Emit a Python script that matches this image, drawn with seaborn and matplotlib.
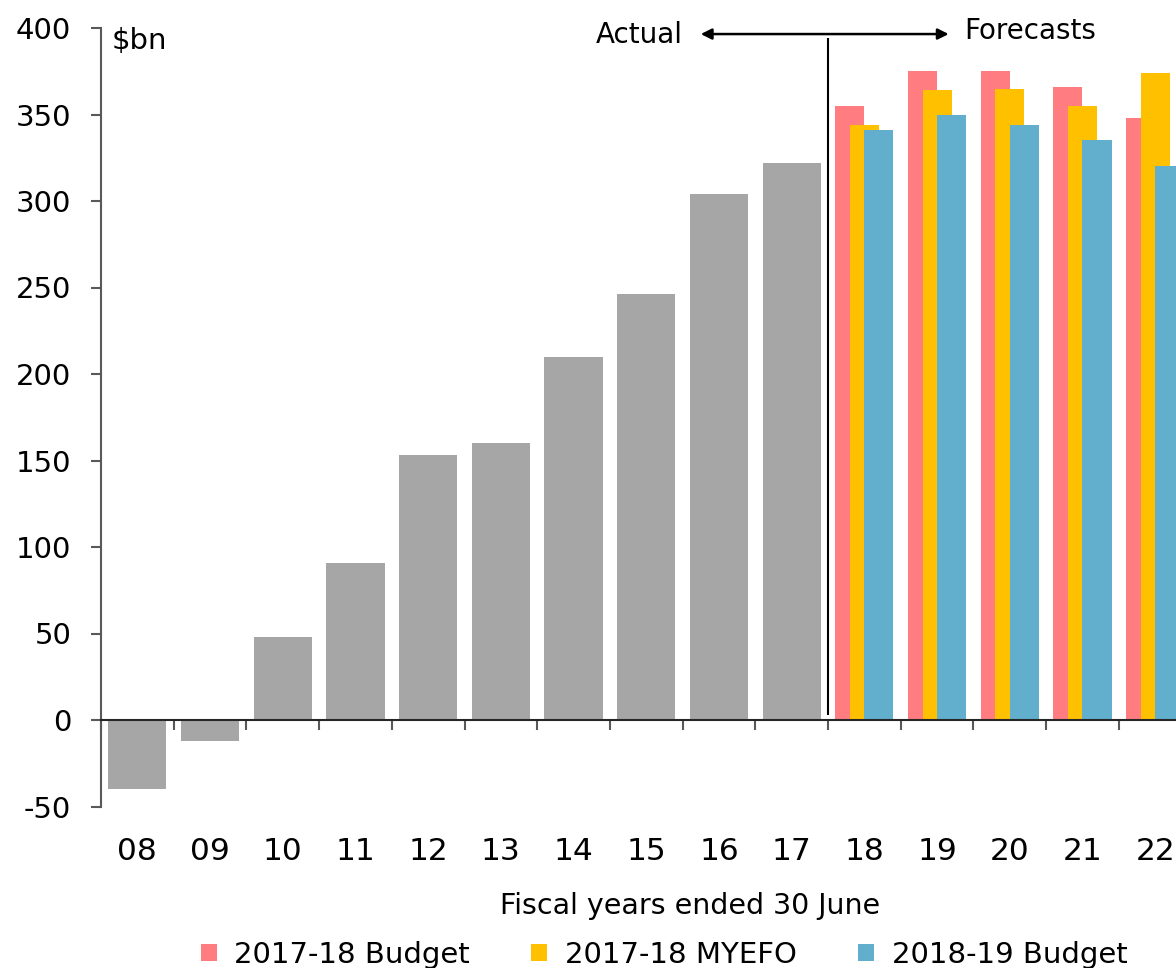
import numpy as np
import pandas as pd
import matplotlib
matplotlib.use("Agg")
import matplotlib.pyplot as plt
from matplotlib.ticker import FixedLocator
import seaborn as sns

# Fiscal years (ended 30 June) and values in $bn
years = ["08", "09", "10", "11", "12", "13", "14", "15", "16", "17",
         "18", "19", "20", "21", "22"]
actual = [-40, -12, 48, 91, 153, 160, 210, 246, 304, 322]
budget_2017_18 = [355, 375, 375, 366, 348]
myefo_2017_18 = [344, 364, 365, 355, 374]
budget_2018_19 = [341, 350, 344, 335, 320]

series_names = ["2017-18 Budget", "2017-18 MYEFO", "2018-19 Budget"]
series_values = [budget_2017_18, myefo_2017_18, budget_2018_19]
series_colors = ["#FF7C80", "#FFC000", "#61AFCD"]
GRAY = "#A6A6A6"
AXIS = "#595959"

sns.set_theme(style="white")
plt.rcParams["font.family"] = ["DejaVu Sans"]
plt.rcParams["text.color"] = "black"
plt.rcParams["axes.unicode_minus"] = False

fig = plt.figure(figsize=(11.76, 9.68), dpi=100)
ax = fig.add_axes([101 / 1176, 1 - 806.5 / 968, 1090.5 / 1176, 778.5 / 968])

pos = np.arange(len(years))
n_act = len(actual)

# actual outcomes
act_df = pd.DataFrame({"pos": pos[:n_act], "value": actual})
sns.barplot(data=act_df, x="pos", y="value", native_scale=True, color=GRAY,
            width=0.8, saturation=1, linewidth=0, ax=ax)

# forecast vintages, overlapping bars drawn back to front
fc_pos = pos[n_act:]
for i, (name, vals, col) in enumerate(zip(series_names, series_values, series_colors)):
    df = pd.DataFrame({"pos": fc_pos + (i - 1) * 0.2, "value": vals})
    sns.barplot(data=df, x="pos", y="value", native_scale=True, color=col,
                width=0.4, saturation=1, linewidth=0, ax=ax, label=name)

if ax.get_legend() is not None:
    ax.get_legend().remove()

ax.set_xlim(-0.5, len(years) - 0.5)
ax.set_ylim(-50, 400)

# axes styling
for s in ["top", "right"]:
    ax.spines[s].set_visible(False)
ax.spines["left"].set_bounds(-50, 400)
ax.spines["left"].set_color(AXIS)
ax.spines["left"].set_linewidth(1.5)
ax.spines["bottom"].set_position(("data", 0))
ax.spines["bottom"].set_color("#262626")
ax.spines["bottom"].set_linewidth(1.5)

ax.set_yticks(np.arange(-50, 401, 50))
ax.tick_params(axis="y", direction="out", length=7.5, width=1.5, color=AXIS,
               pad=14, labelsize=21, labelcolor="black", left=True)

ax.set_xticks(pos)
ax.set_xticklabels(years)
ax.xaxis.set_minor_locator(FixedLocator(np.arange(-0.5, len(years), 1.0)))
ax.tick_params(axis="x", which="major", length=0, pad=84, labelsize=22.5, labelcolor="black")
ax.tick_params(axis="x", which="minor", direction="out", length=7.5, width=1.5,
               color=AXIS, bottom=True)
ax.set_xlabel("Fiscal years ended 30 June", fontsize=20.5, color="black")
ax.xaxis.set_label_coords(0.540, (806.5 - 892) / 778.5)
ax.set_ylabel("")
ax.grid(False)

ax.text(0.01, 0.983, "$bn", transform=ax.transAxes, fontsize=21,
        ha="left", va="center")

# divider between actuals and forecasts
ax.vlines(n_act - 0.5, 3, 394, color="black", linewidth=1.5)
ax.annotate("", xy=(7.75, 396.5), xytext=(11.16, 396.5),
            arrowprops=dict(arrowstyle="<|-|>", color="black", lw=1.8,
                            mutation_scale=16, shrinkA=0, shrinkB=0),
            annotation_clip=False)
ax.text(7.5, 396, "Actual", fontsize=20, ha="right", va="center")
ax.text(11.37, 398, "Forecasts", fontsize=20, ha="left", va="center")

handles, labels = ax.get_legend_handles_labels()
fig.legend(handles, labels, loc="center", bbox_to_anchor=(664 / 1176, 1 - 955 / 968),
           ncol=3, frameon=False, fontsize=21, handlelength=0.55, handleheight=0.55,
           handletextpad=0.6, columnspacing=2.1, borderaxespad=0)

fig.savefig("out.png", dpi=100)
